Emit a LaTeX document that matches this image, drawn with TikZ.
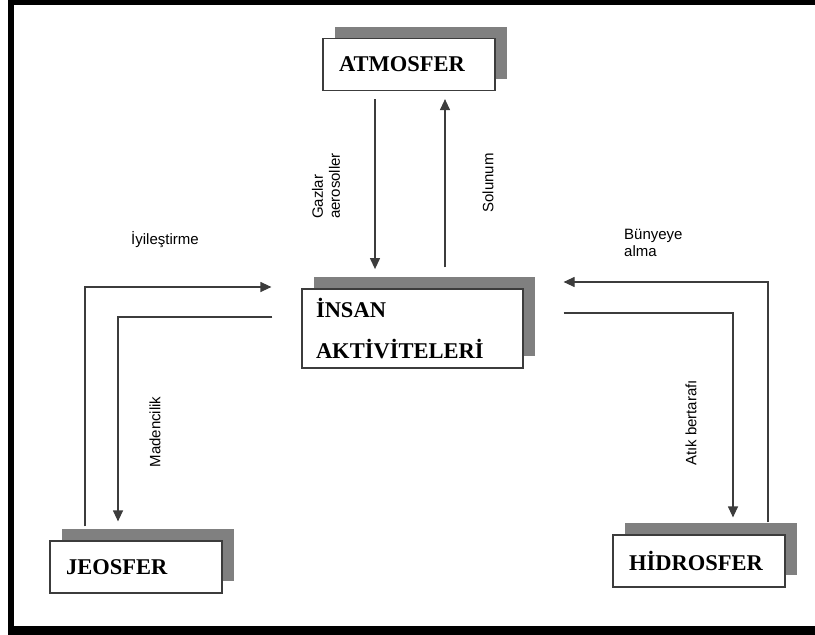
\documentclass[tikz,border=0pt]{standalone}
\usepackage{fontspec}
\setmainfont{Liberation Serif}
\setsansfont{Liberation Sans}
\usepackage{xcolor}
\definecolor{shadowgray}{RGB}{128,128,128}
\definecolor{linegray}{RGB}{60,60,60}
\usetikzlibrary{arrows.meta,positioning,calc,shadows}

\tikzset{
  sphere/.style={draw=linegray, fill=white, line width=1.2pt,
      general shadow={fill=shadowgray, shadow xshift=12pt, shadow yshift=12pt},
      align=left, inner xsep=16pt, text width=140pt, minimum height=52pt,
      font=\fontsize{22.5}{41}\selectfont\bfseries},
  flow/.style={draw=linegray, line width=1.2pt,
      -{Triangle[length=11pt,width=10pt]}},
  flowlabel/.style={font=\sffamily\fontsize{15}{17}\selectfont, inner sep=0pt}
}

\begin{document}
\begin{tikzpicture}[x=1pt, y=-1pt]
\useasboundingbox (0,0) rectangle (815,635);

% Frame (left, top and bottom edges)
\fill (8,0) rectangle (14,635);
\fill (8,0) rectangle (815,5);
\fill (8,626) rectangle (815,635);

% Spheres
\node[sphere] (atmos) at (409,64.5) {ATMOSFER};
\node[sphere, inner xsep=14pt, text width=193pt, minimum height=79pt]
     (insan) at (412.5,328.5) {İNSAN\\AKTİVİTELERİ};
\node[sphere] (jeo) at (136,567) {JEOSFER};
\node[sphere] (hidro) at (699,561) {HİDROSFER};

% Atmosfer <-> insan aktiviteleri
\draw[flow] ($(atmos.south)+(-34,8)$) -- ++(0,170);
\draw[flow] ($(insan.north)+(32.5,-21)$) -- ($(atmos.south)+(36,8)$);

% Jeosfer <-> insan aktiviteleri
\draw[flow] ($(jeo.north)+(-51,-14)$) |- ($(insan.west)+(-30,-41.5)$);
\draw[flow] ($(insan.west)+(-29,-11.5)$) -| ($(jeo.north)+(-18,-19)$);

% Hidrosfer <-> insan aktiviteleri
\draw[flow] ($(hidro.north)+(69,-12)$) |- ($(insan.east)+(40,-46.5)$);
\draw[flow] ($(insan.east)+(40,-15.5)$) -| ($(hidro.north)+(34,-17)$);

% Labels
\node[flowlabel, rotate=90, align=left] (gaz) at (326,186) {Gazlar\\aerosoller};
\node[flowlabel, rotate=90] (solunum) at (488,183) {Solunum};
\node[flowlabel] (iyi) at (165,240) {İyileştirme};
\node[flowlabel, rotate=90] (maden) at (155,432) {Madencilik};
\node[flowlabel, align=left, anchor=west] (bunye) at (624,243) {Bünyeye\\alma};
\node[flowlabel, rotate=90] (atik) at (691,423) {Atık bertarafı};

\end{tikzpicture}
\end{document}
